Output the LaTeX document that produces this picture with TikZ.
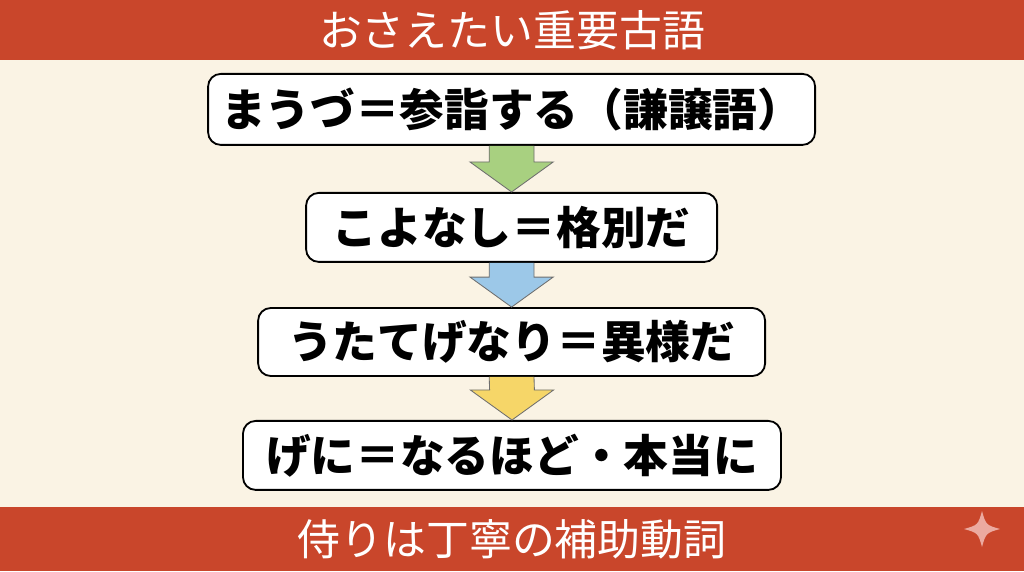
\documentclass[tikz,border=0pt]{standalone}
\usepackage{fontspec}
\setmainfont{Noto Sans CJK JP}
\usetikzlibrary{calc}
\definecolor{BannerRed}{RGB}{201,70,43}
\definecolor{Cream}{RGB}{250,243,228}
\definecolor{ArrowGreen}{RGB}{168,208,128}
\definecolor{ArrowBlue}{RGB}{156,200,232}
\definecolor{ArrowYellow}{RGB}{246,214,104}
\definecolor{ArrowEdge}{RGB}{110,110,110}
\definecolor{SparkPink}{RGB}{236,170,160}

\begin{document}
\begin{tikzpicture}[
      wordBox/.style={draw=black,fill=white,rounded corners=9pt,line width=1.3pt,
                      inner sep=0pt,font=\fontsize{31.8}{36}\selectfont\bfseries},
      bannerText/.style={white,font=\fontsize{30.5}{34}\selectfont},
      blockArrow/.style={draw=ArrowEdge,line width=0.6pt,line join=miter}
    ]

    % Background and banners
    \useasboundingbox (0,0) rectangle (25.6,14.275);
    \fill[Cream] (0,0) rectangle (25.6,14.275);
    \fill[BannerRed] (0,12.775) rectangle (25.6,14.275);
    \fill[BannerRed] (0,0) rectangle (25.6,1.6);

    \node(title)[bannerText] at (12.8,13.525) {おさえたい重要古語};
    \node(note)[bannerText] at (12.8,0.78) {侍りは丁寧の補助動詞};

    % Word boxes
    \node(b1)[wordBox,minimum width=15.175cm,minimum height=1.775cm] at (12.79,11.54)
      {まうづ＝参詣する（謙譲語）};
    \node(b2)[wordBox,minimum width=10.275cm,minimum height=1.725cm] at (12.79,8.59)
      {こよなし＝格別だ};
    \node(b3)[wordBox,minimum width=12.675cm,minimum height=1.7cm] at (12.79,5.725)
      {うたてげなり＝異様だ};
    \node(b4)[wordBox,minimum width=13.45cm,minimum height=1.725cm] at (12.8,2.89)
      {げに＝なるほど・本当に};

    % Down arrows between boxes
    \draw[blockArrow,fill=ArrowGreen]
      ($(b1.south)+(-0.56,0)$) -- ($(b2.north)+(-0.56,0.75)$) -- ($(b2.north)+(-1.04,0.75)$)
      -- (b2.north) -- ($(b2.north)+(1.04,0.75)$) -- ($(b2.north)+(0.56,0.75)$)
      -- ($(b1.south)+(0.56,0)$);
    \draw[blockArrow,fill=ArrowBlue]
      ($(b2.south)+(-0.56,0)$) -- ($(b3.north)+(-0.56,0.75)$) -- ($(b3.north)+(-1.04,0.75)$)
      -- (b3.north) -- ($(b3.north)+(1.04,0.75)$) -- ($(b3.north)+(0.56,0.75)$)
      -- ($(b2.south)+(0.56,0)$);
    \draw[blockArrow,fill=ArrowYellow]
      ($(b3.south)+(-0.56,0)$) -- ($(b4.north)+(-0.56,0.75)$) -- ($(b4.north)+(-1.04,0.75)$)
      -- (b4.north) -- ($(b4.north)+(1.04,0.75)$) -- ($(b4.north)+(0.56,0.75)$)
      -- ($(b3.south)+(0.56,0)$);

    % Sparkle mark
    \fill[SparkPink,shift={(24.55,1.05)}]
      (0,0.45) .. controls (0.1,0.1) .. (0.45,0)
      .. controls (0.1,-0.1) .. (0,-0.45)
      .. controls (-0.1,-0.1) .. (-0.45,0)
      .. controls (-0.1,0.1) .. cycle;
  \end{tikzpicture}
\end{document}
